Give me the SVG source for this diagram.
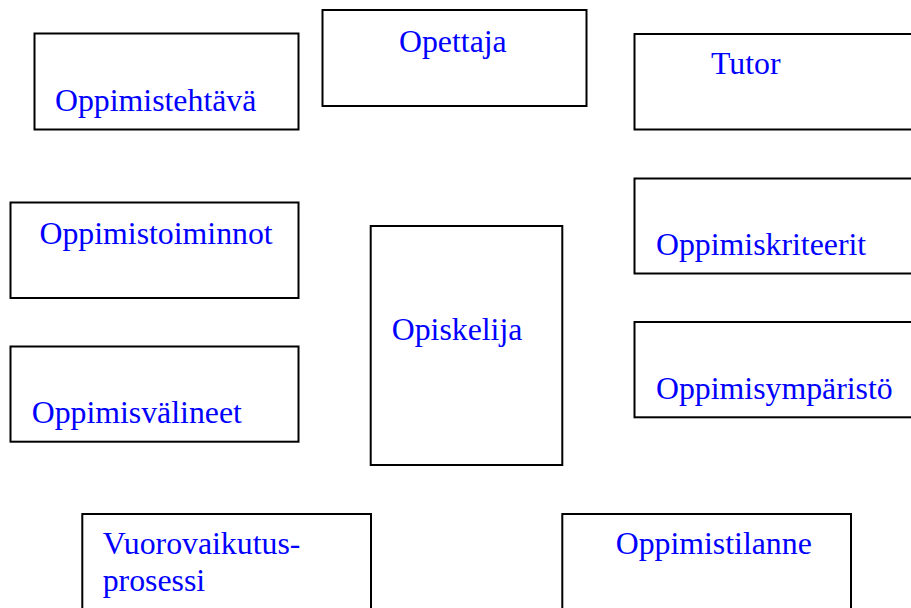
<svg xmlns="http://www.w3.org/2000/svg" width="911" height="608" viewBox="0 0 911 608">
<style>
.box{fill:#ffffff;stroke:#000000;stroke-width:2}
.lbl{font-family:"Liberation Serif","Times New Roman",serif;font-size:31.8px;fill:#0000ff}
</style>
<rect width="911" height="608" fill="#ffffff"/>
<g id="connectors"></g>
<g id="oppimistehtava"><rect class="box" x="34.5" y="33.5" width="264" height="96"/><text class="lbl" x="55" y="110.5">Oppimistehtävä</text></g>
<g id="opettaja"><rect class="box" x="322.5" y="10" width="264" height="96"/><text class="lbl" x="399" y="51.5">Opettaja</text></g>
<g id="tutor"><rect class="box" x="634.5" y="34" width="300" height="95.5"/><text class="lbl" x="711" y="74">Tutor</text></g>
<g id="oppimistoiminnot"><rect class="box" x="10.5" y="202.5" width="288" height="95.5"/><text class="lbl" x="39.5" y="243.5">Oppimistoiminnot</text></g>
<g id="oppimiskriteerit"><rect class="box" x="634.5" y="178.5" width="300" height="95"/><text class="lbl" x="656" y="254.5">Oppimiskriteerit</text></g>
<g id="opiskelija"><rect class="box" x="370.7" y="226" width="191.6" height="239"/><text class="lbl" x="391.7" y="340">Opiskelija</text></g>
<g id="oppimisvalineet"><rect class="box" x="10.5" y="346.5" width="288" height="95.2"/><text class="lbl" x="31.7" y="422.7">Oppimisvälineet</text></g>
<g id="oppimisymparisto"><rect class="box" x="634.5" y="322" width="300" height="95.3"/><text class="lbl" x="656" y="399">Oppimisympäristö</text></g>
<g id="vuorovaikutusprosessi"><rect class="box" x="82.3" y="514" width="288.7" height="120"/><text class="lbl" x="102.7" y="553.5">Vuorovaikutus-</text><text class="lbl" x="102.7" y="590.7">prosessi</text></g>
<g id="oppimistilanne"><rect class="box" x="562.3" y="514" width="288.7" height="120"/><text class="lbl" x="615.7" y="554">Oppimistilanne</text></g>
</svg>
